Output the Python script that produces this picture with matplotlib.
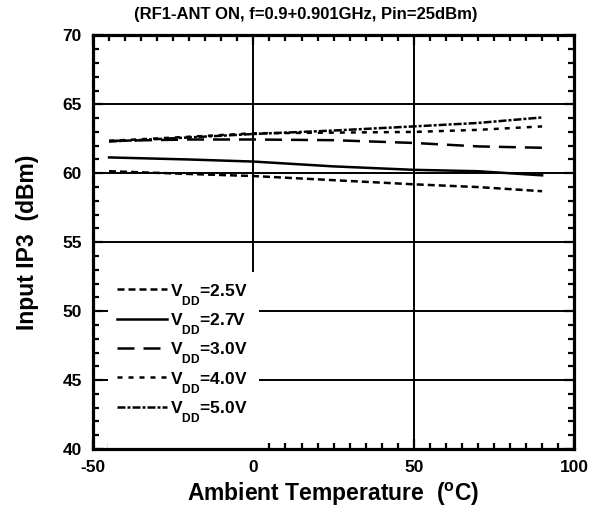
import matplotlib
matplotlib.use("Agg")
import matplotlib.pyplot as plt
from matplotlib.patches import Rectangle
from matplotlib.ticker import MultipleLocator

plt.rcParams['font.family'] = ['Liberation Sans', 'DejaVu Sans']
plt.rcParams['font.weight'] = 'bold'
plt.rcParams['axes.unicode_minus'] = False
plt.rcParams['mathtext.fontset'] = 'custom'
plt.rcParams['mathtext.rm'] = 'Liberation Sans:bold'
plt.rcParams['mathtext.bf'] = 'Liberation Sans:bold'

# drop the V_DD subscripts a little lower than the mathtext default
try:
    from matplotlib import _mathtext
    _mathtext.FontConstantsBase.sub1 = 0.9
except Exception:
    pass

# ambient temperature (degC)
temp = [-45, -20, 0, 25, 50, 70, 90]

# input IP3 (dBm) per supply voltage
ip3_25 = [60.15, 59.95, 59.8, 59.5, 59.2, 59.0, 58.7]
ip3_27 = [61.15, 61.0, 60.85, 60.5, 60.25, 60.15, 59.85]
ip3_30 = [62.35, 62.45, 62.45, 62.4, 62.2, 61.95, 61.85]
ip3_40 = [62.35, 62.65, 62.9, 62.95, 63.0, 63.15, 63.4]
ip3_50 = [62.3, 62.6, 62.85, 63.1, 63.4, 63.65, 64.05]

labels = ['2.5V', '2.7V', '3.0V', '4.0V', '5.0V']
series = [ip3_25, ip3_27, ip3_30, ip3_40, ip3_50]
dashes = [(2.8, 1.6), None, (6.8, 3.6), (2.0, 2.4), (3.2, 0.8, 1.2, 0.8)]

fig = plt.figure(figsize=(6.0, 5.17), dpi=100)
ax = fig.add_axes([0.155, 0.1315, 0.802, 0.8])

for vals, lab, d in zip(series, labels, dashes):
    line, = ax.plot(temp, vals, color='black', lw=1.8,
                    label=r'V$_{\mathrm{DD}}$=' + lab)
    if d is not None:
        line.set_dashes(d)

ax.set_xlim(-50, 100)
ax.set_ylim(40, 70)
ax.xaxis.set_major_locator(MultipleLocator(50))
ax.xaxis.set_minor_locator(MultipleLocator(5))
ax.yaxis.set_major_locator(MultipleLocator(5))
ax.yaxis.set_minor_locator(MultipleLocator(1))
ax.tick_params(which='both', direction='in', top=True, right=True,
               labelsize=12.5, width=1.6)
ax.tick_params(which='major', length=7)
ax.tick_params(which='minor', length=4)
ax.tick_params(axis='y', pad=8)
ax.tick_params(axis='x', pad=8)
for t in ax.get_xticklabels() + ax.get_yticklabels():
    t.set_fontweight('bold')
for s in ax.spines.values():
    s.set_linewidth(2.3)
ax.grid(True, which='major', color='black', lw=1.4)
ax.set_axisbelow(True)

# white panel behind the legend that hides the grid
ax.add_patch(Rectangle((0.031, 0.0), 0.314, 0.4275, transform=ax.transAxes,
                       facecolor='white', edgecolor='none', zorder=1.5))

ax.set_xlabel(r'Ambient Temperature  ($^{\mathrm{o}}$C)', fontsize=16.5,
              fontweight='bold', labelpad=4)
ax.set_ylabel('Input IP3  (dBm)', fontsize=16.5, fontweight='bold',
              labelpad=17)
fig.text(0.51, 0.972, '(RF1-ANT ON, f=0.9+0.901GHz, Pin=25dBm)',
         ha='center', va='center', fontsize=12, fontweight='bold')

leg = ax.legend(loc='upper left', bbox_to_anchor=(0.05, 0.405),
                frameon=False, fontsize=12.5, handlelength=2.9,
                handletextpad=0.15, labelspacing=0.25, borderpad=0.0,
                borderaxespad=0.0)
for t in leg.get_texts():
    t.set_fontweight('bold')

fig.savefig('out.png', dpi=100)
